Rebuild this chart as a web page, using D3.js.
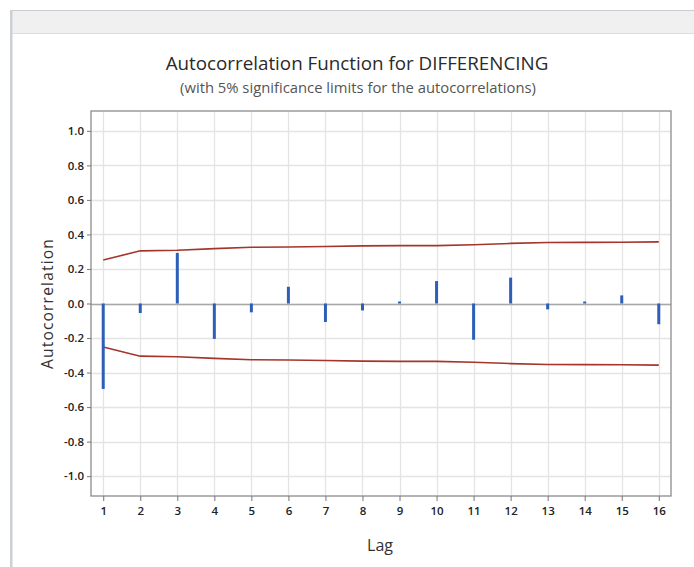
<!DOCTYPE html>
<html>
<head>
<meta charset="utf-8">
<script src="https://cdn.jsdelivr.net/npm/d3@7"></script>
<style>
  body { margin: 0; background: #fff; }
  svg { display: block; font-family: "Open Sans", "Noto Sans", sans-serif; }
</style>
</head>
<body>
<div id="chart"></div>
<script>
// ACF values
const lags = [1, 2, 3, 4, 5, 6, 7, 8, 9, 10, 11, 12, 13, 14, 15, 16];
const acf = [-0.495, -0.055, 0.293, -0.205, -0.051, 0.097, -0.107, -0.04, 0.005, 0.13, -0.21, 0.15, -0.034, 0.01, 0.047, -0.12];
const upperLimit = [0.252, 0.305, 0.308, 0.318, 0.326, 0.327, 0.330, 0.334, 0.335, 0.335, 0.340, 0.348, 0.353, 0.354, 0.355, 0.357];
const yTicks = [-1.0, -0.8, -0.6, -0.4, -0.2, 0.0, 0.2, 0.4, 0.6, 0.8, 1.0];

const width = 694, height = 567;
const margin = { top: 111, right: 23, bottom: 71, left: 91 };

const svg = d3.select('#chart').append('svg')
    .attr('width', width)
    .attr('height', height);

// window frame
svg.append('rect').attr('x', 11).attr('y', 10).attr('width', width - 11).attr('height', 24)
    .attr('fill', '#f0f0f0');
svg.append('line').attr('x1', 10).attr('x2', width).attr('y1', 10.5).attr('y2', 10.5)
    .attr('stroke', '#c9ccd1');
svg.append('line').attr('x1', 12).attr('x2', width).attr('y1', 33.5).attr('y2', 33.5)
    .attr('stroke', '#dcdde0');
svg.append('rect').attr('x', 10).attr('y', 10).attr('width', 2.5).attr('height', height - 10)
    .attr('fill', '#ccd0d6');

const x = d3.scaleLinear().domain([0.67, 16.33]).range([margin.left, width - margin.right]);
const y = d3.scaleLinear().domain([-1.115, 1.115]).range([height - margin.bottom, margin.top]);

const plot = svg.append('g');

// gridlines
plot.selectAll('.hgrid').data(yTicks).enter().append('line')
    .attr('x1', x.range()[0]).attr('x2', x.range()[1])
    .attr('y1', d => Math.round(y(d)) + 0.5).attr('y2', d => Math.round(y(d)) + 0.5)
    .attr('stroke', '#e4e4e4').attr('stroke-width', 1.3);
plot.selectAll('.vgrid').data(lags).enter().append('line')
    .attr('y1', y.range()[0]).attr('y2', y.range()[1])
    .attr('x1', d => Math.round(x(d)) + 0.5).attr('x2', d => Math.round(x(d)) + 0.5)
    .attr('stroke', '#e4e4e4').attr('stroke-width', 1.3);

// zero line
plot.append('line')
    .attr('x1', x.range()[0]).attr('x2', x.range()[1])
    .attr('y1', Math.round(y(0)) + 0.5).attr('y2', Math.round(y(0)) + 0.5)
    .attr('stroke', '#a8a8a8').attr('stroke-width', 1.3);

// significance limits
const limitLine = d3.line().x((d, i) => x(lags[i])).y(d => y(d));
plot.append('path').datum(upperLimit)
    .attr('d', limitLine)
    .attr('fill', 'none').attr('stroke', '#a5342b').attr('stroke-width', 1.6);
plot.append('path').datum(upperLimit.map(v => -v))
    .attr('d', limitLine)
    .attr('fill', 'none').attr('stroke', '#a5342b').attr('stroke-width', 1.6);

// ACF bars
plot.selectAll('.bar').data(acf).enter().append('line')
    .attr('x1', (d, i) => x(lags[i])).attr('x2', (d, i) => x(lags[i]))
    .attr('y1', y(0))
    .attr('y2', d => Math.abs(d) < 0.012 ? y(0) - 2 * Math.sign(d || 1) : y(d))
    .attr('stroke', '#2e5fb8').attr('stroke-width', 3);

// plot border
svg.append('rect')
    .attr('x', x.range()[0]).attr('y', y.range()[1])
    .attr('width', x.range()[1] - x.range()[0])
    .attr('height', y.range()[0] - y.range()[1])
    .attr('fill', 'none').attr('stroke', '#8c8c8c').attr('stroke-width', 1.3);

// axes
const yAxis = svg.append('g')
    .attr('transform', `translate(${x.range()[0]},0)`)
    .call(d3.axisLeft(y).tickValues(yTicks).tickFormat(d3.format('.1f')).tickSize(4).tickPadding(3));
const xAxis = svg.append('g')
    .attr('transform', `translate(0,${y.range()[0]})`)
    .call(d3.axisBottom(x).tickValues(lags).tickFormat(d3.format('d')).tickSize(5).tickPadding(6));

[xAxis, yAxis].forEach(ax => {
    ax.select('.domain').remove();
    ax.selectAll('.tick line').attr('stroke', '#777');
    ax.selectAll('.tick text').attr('fill', '#222').attr('font-size', 11.5)
        .attr('font-weight', 600)
        .attr('font-family', '"Open Sans", sans-serif');
});
yAxis.selectAll('.tick text').text(d => d3.format('.1f')(d).replace('−', '-'));

// titles
svg.append('text').attr('x', 357).attr('y', 70)
    .attr('text-anchor', 'middle').attr('font-size', 18.8).attr('fill', '#2a2a2a')
    .text('Autocorrelation Function for DIFFERENCING');
svg.append('text').attr('x', 358).attr('y', 93)
    .attr('text-anchor', 'middle').attr('font-size', 14.8).attr('fill', '#555')
    .text('(with 5% significance limits for the autocorrelations)');
svg.append('text')
    .attr('transform', `translate(53,${y(0)}) rotate(-90)`)
    .attr('text-anchor', 'middle').attr('font-size', 15.5).attr('fill', '#333')
    .attr('letter-spacing', 1.2)
    .text('Autocorrelation');
svg.append('text').attr('x', 380).attr('y', 551)
    .attr('text-anchor', 'middle').attr('font-size', 16).attr('fill', '#333')
    .text('Lag');
</script>
</body>
</html>
